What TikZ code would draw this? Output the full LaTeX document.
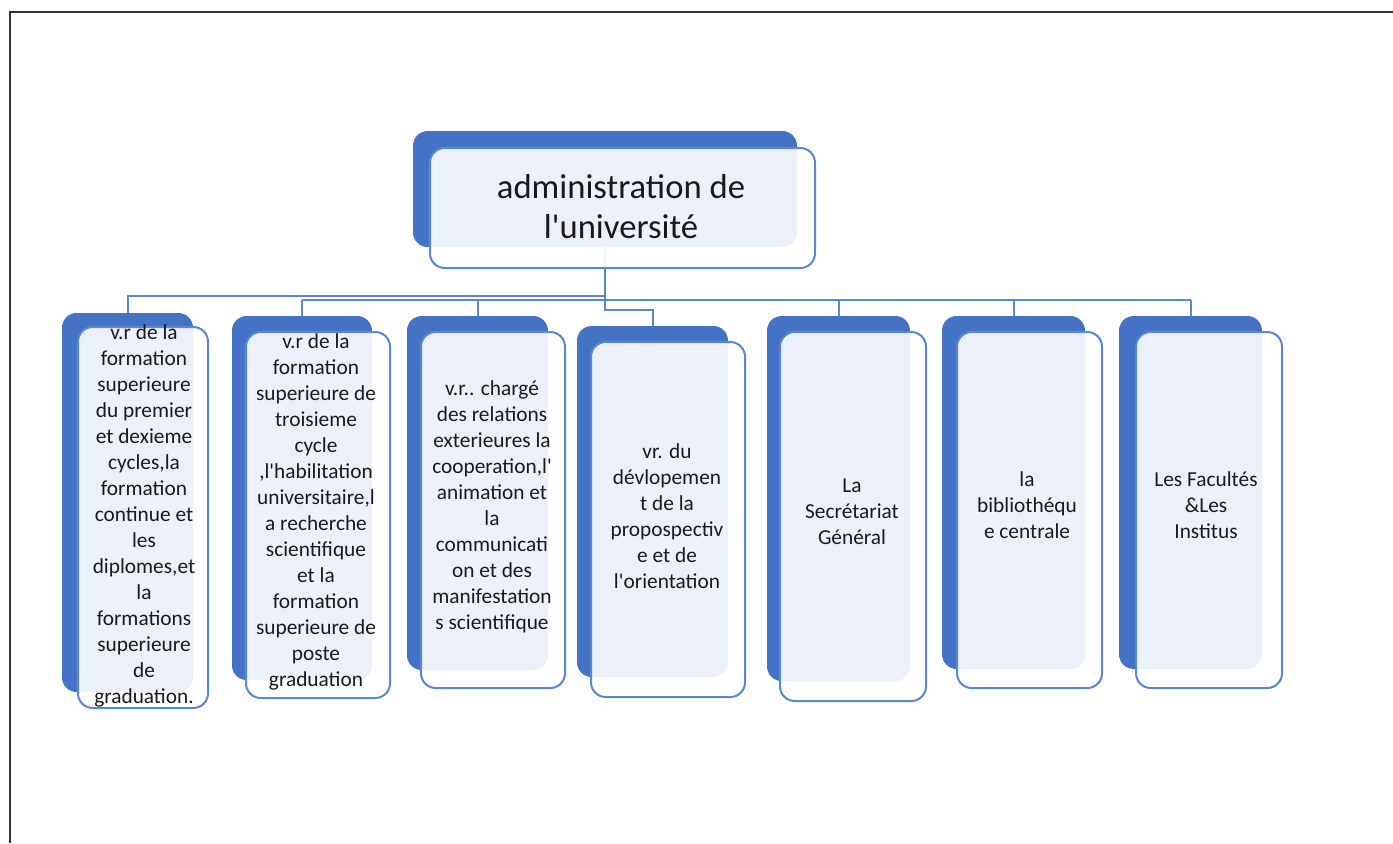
\documentclass[tikz,border=0pt]{standalone}
\usepackage{fontspec}
\setmainfont{Carlito}[Ligatures=TeXOff]
\definecolor{acc}{HTML}{4472C4}
\definecolor{edge}{HTML}{5A86D2}
\definecolor{ink}{HTML}{1A1A1A}
\definecolor{frame}{HTML}{333333}
\begin{document}
\begin{tikzpicture}[x=0.75pt,y=-0.75pt,
  bk/.style={fill=acc, draw=none, rounded corners=11pt, inner sep=0pt},
  fr/.style={draw=edge, line width=1.5pt, fill=white, fill opacity=0.9, rounded corners=11pt, inner sep=0pt},
  txt/.style={text=ink, align=center, font=\fontsize{16}{19.5}\selectfont, inner sep=0pt},
  ttl/.style={text=ink, align=center, font=\fontsize{26}{30}\selectfont, inner sep=0pt},
  conn/.style={draw=edge, line width=1.5pt},
  frm/.style={draw=frame, line width=2.2pt}]
\useasboundingbox (0,0) rectangle (1393,843);
% frame
\coordinate (fa) at (1393,12);
\coordinate (fb) at (10,12);
\coordinate (fc) at (10,843);
\draw[frm] (fa) -- (fb) -- (fc);
% back boxes
\node[bk, minimum width=288pt, minimum height=87pt] (tbk) at (605,189) {};
\node[bk, minimum width=98.25pt, minimum height=284.25pt] (bk1) at (127.5,502.5) {};
\node[bk, minimum width=105pt, minimum height=273pt] (bk2) at (302,498) {};
\node[bk, minimum width=105.75pt, minimum height=265.5pt] (bk3) at (477.5,493) {};
\node[bk, minimum width=113.25pt, minimum height=263.25pt] (bk4) at (652.5,501.5) {};
\node[bk, minimum width=107.25pt, minimum height=273.75pt] (bk5) at (838.5,498.5) {};
\node[bk, minimum width=107.25pt, minimum height=264.75pt] (bk6) at (1013.5,492.5) {};
\node[bk, minimum width=107.25pt, minimum height=264.75pt] (bk7) at (1190.5,492.5) {};
% connectors
\coordinate (busL) at (0,296);
\coordinate (busR) at (0,300);
\coordinate (jog) at (0,310);
\draw[conn] (tbk.south) -- (tbk.south |- jog) -| (bk4.north);
\draw[conn] (tbk.south |- busL) -| (bk1.north);
\draw[conn] (bk2.north |- busR) -- (bk7.north |- busR);
\draw[conn] (bk2.north |- busR) -- (bk2.north);
\draw[conn] (bk3.north |- busR) -- (bk3.north);
\draw[conn] (bk5.north |- busR) -- (bk5.north);
\draw[conn] (bk6.north |- busR) -- (bk6.north);
\draw[conn] (bk7.north |- busR) -- (bk7.north);
% front boxes
\node[fr, minimum width=288.75pt, minimum height=90pt] (tfr) at (622.5,208) {};
\node[fr, minimum width=97.5pt, minimum height=285.75pt] (f1) at (143,517.5) {};
\node[fr, minimum width=108pt, minimum height=274.5pt] (f2) at (318,515) {};
\node[fr, minimum width=108pt, minimum height=267pt] (f3) at (493,510) {};
\node[fr, minimum width=115.5pt, minimum height=266.25pt] (f4) at (668,519.5) {};
\node[fr, minimum width=109.5pt, minimum height=276.75pt] (f5) at (853,516.5) {};
\node[fr, minimum width=108.75pt, minimum height=267pt] (f6) at (1029.5,510) {};
\node[fr, minimum width=109.5pt, minimum height=267pt] (f7) at (1209,510) {};
% texts
\node[ttl] (tt) at (621,207) {administration de\\l'université};
\node[txt] (t1) at (144,516) {v.r de la\\formation\\superieure\\du premier\\et dexieme\\cycles,la\\formation\\continue et\\les\\diplomes,et\\la\\formations\\superieure\\de\\graduation.};
\node[txt] (t2) at (316,512) {v.r de la\\formation\\superieure de\\troisieme\\cycle\\,l'habilitation\\universitaire,l\\a recherche\\scientifique\\et la\\formation\\superieure de\\poste\\graduation};
\node[txt] (t3) at (492,507) {v.r.. chargé\\des relations\\exterieures la\\cooperation,l'\\animation et\\la\\communicati\\on et des\\manifestation\\s scientifique};
\node[txt] (t4) at (667,516) {vr. du\\dévlopemen\\t de la\\propospectiv\\e et de\\l'orientation};
\node[txt] (t5) at (852,512) {La\\Secrétariat\\Général};
\node[txt] (t6) at (1027,505) {la\\bibliothéqu\\e centrale};
\node[txt] (t7) at (1206,505) {Les Facultés\\\&Les\\Institus};
\end{tikzpicture}
\end{document}
